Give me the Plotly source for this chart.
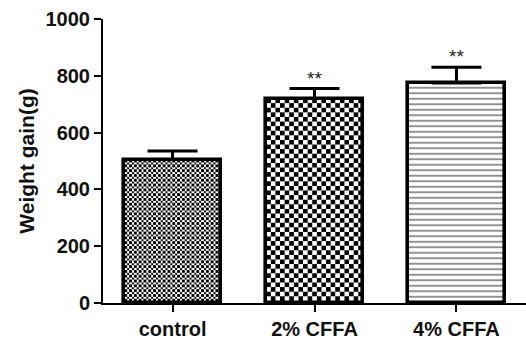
import base64
import plotly.graph_objects as go

# Weight gain per group (mean and SEM), with significance marks
groups = ["control", "2% CFFA", "4% CFFA"]
means = [505, 720, 775]
sems = [30, 35, 55]
marks = ["", "**", "**"]
y_ticks = [0, 200, 400, 600, 800, 1000]

W, H = 526, 340
M_L, M_R, M_T, M_B = 103, 0, 19, 37
X_RANGE = [-0.49, 2.49]
Y_RANGE = [0, 1000]
BAR_W = 0.68

plot_w = W - M_L - M_R
plot_h = H - M_T - M_B
px_per_x = plot_w / (X_RANGE[1] - X_RANGE[0])
px_per_y = plot_h / (Y_RANGE[1] - Y_RANGE[0])


def checker_svg(w_px, h_px, cell):
    """Checkerboard texture as an SVG data URI."""
    svg = (
        f'<svg xmlns="http://www.w3.org/2000/svg" width="{w_px:.1f}" height="{h_px:.1f}" '
        f'viewBox="0 0 {w_px:.2f} {h_px:.2f}" shape-rendering="crispEdges">'
        f'<defs><pattern id="p" width="{2*cell}" height="{2*cell}" patternUnits="userSpaceOnUse">'
        f'<rect width="{2*cell}" height="{2*cell}" fill="white"/>'
        f'<rect width="{cell}" height="{cell}" fill="black"/>'
        f'<rect x="{cell}" y="{cell}" width="{cell}" height="{cell}" fill="black"/>'
        f'</pattern></defs><rect width="100%" height="100%" fill="url(#p)"/></svg>'
    )
    return "data:image/svg+xml;base64," + base64.b64encode(svg.encode()).decode()


# texture cell size per group (None -> built-in line pattern)
cells = [2.4, 4.6, None]

fig = go.Figure()

fig.add_trace(go.Bar(
    x=list(range(len(groups))),
    y=means,
    width=BAR_W,
    marker=dict(
        color="rgba(0,0,0,0)",
        line=dict(color="black", width=3.6),
        pattern=dict(
            shape=["", "", "-"],
            fgcolor="#222",
            bgcolor="white",
            size=5.5,
            solidity=0.36,
        ),
    ),
    error_y=dict(
        type="data",
        symmetric=False,
        array=sems,
        arrayminus=[0] * len(sems),
        color="black",
        thickness=3,
        width=25,
    ),
    showlegend=False,
))

images = []
for i, (m, c) in enumerate(zip(means, cells)):
    if c is None:
        continue
    images.append(dict(
        source=checker_svg(BAR_W * px_per_x, m * px_per_y, c),
        xref="x", yref="y",
        x=i - BAR_W / 2, y=m,
        sizex=BAR_W, sizey=m,
        xanchor="left", yanchor="top",
        sizing="stretch",
        layer="below",
    ))

annotations = []
for i, (m, s, t) in enumerate(zip(means, sems, marks)):
    if t:
        annotations.append(dict(
            x=i, y=m + s, text=t, showarrow=False,
            xanchor="center", yanchor="bottom", yshift=-2,
            font=dict(family="Liberation Sans", size=19, color="#222"),
        ))

fig.update_layout(
    width=W, height=H,
    margin=dict(l=M_L, r=M_R, t=M_T, b=M_B, pad=0),
    paper_bgcolor="white",
    plot_bgcolor="rgba(0,0,0,0)",
    images=images,
    annotations=annotations,
    font=dict(family="Liberation Sans", size=18, color="#111"),
    bargap=0,
)

fig.update_xaxes(
    range=X_RANGE,
    tickvals=list(range(len(groups))),
    ticktext=[f"<b>{g}</b>" for g in groups],
    ticks="outside", ticklen=7, tickwidth=2, tickcolor="black",
    showline=True, linecolor="black", linewidth=2,
    showgrid=False, zeroline=False,
    tickfont=dict(family="Liberation Sans", size=20, color="#111"),
)

fig.update_yaxes(
    range=Y_RANGE,
    tickvals=y_ticks,
    ticktext=[f"<b>{v}</b>" for v in y_ticks],
    ticks="outside", ticklen=7, tickwidth=2, tickcolor="black",
    showline=True, linecolor="black", linewidth=2,
    showgrid=False, zeroline=False,
    tickfont=dict(family="Liberation Sans", size=20, color="#111"),
    title=dict(text="<b>Weight gain(g)</b>", standoff=5,
               font=dict(family="Liberation Sans", size=21, color="#111")),
)

fig.write_html("out.html")
